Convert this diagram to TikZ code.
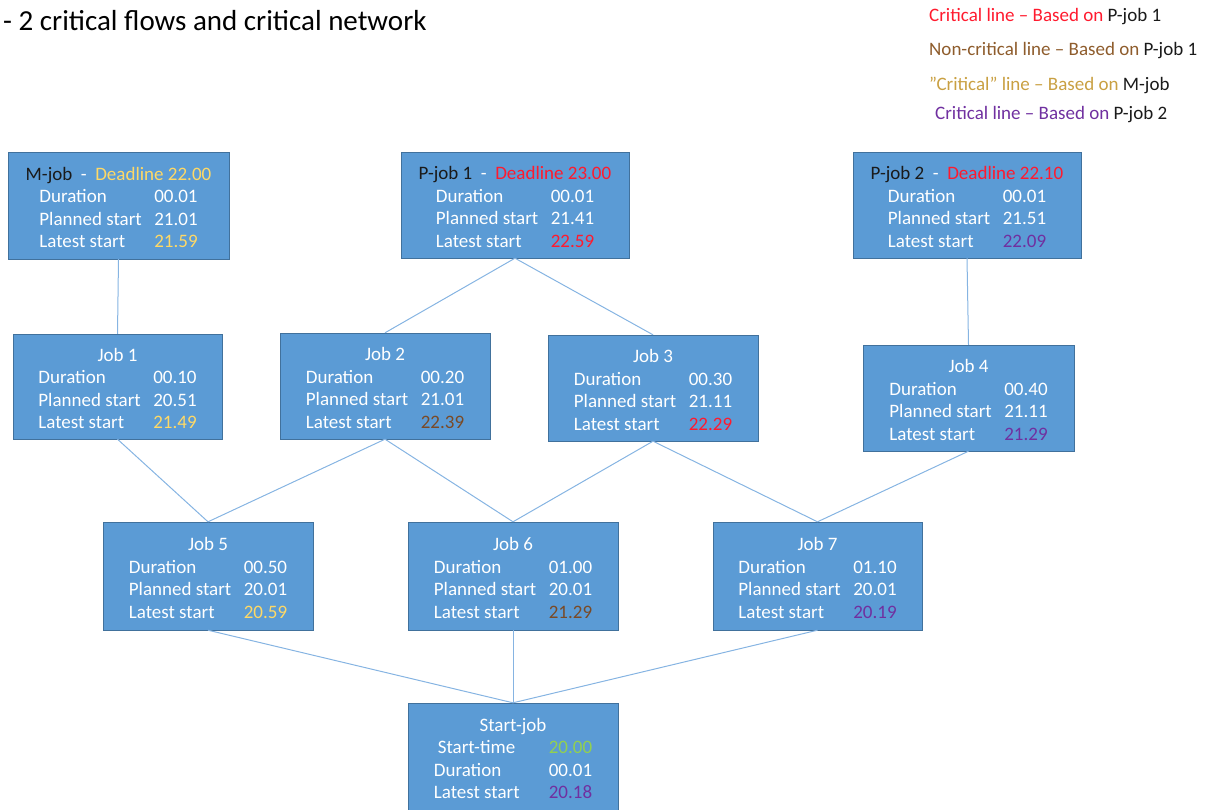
\documentclass[tikz,border=0pt]{standalone}
\usepackage{fontspec}
\setmainfont{Carlito}
\usepackage{array}
\usetikzlibrary{positioning}

\definecolor{boxblue}{HTML}{5B9BD5}
\definecolor{boxedge}{HTML}{41719C}
\definecolor{linkblue}{HTML}{86B4E2}
\definecolor{critred}{HTML}{FF1A2E}
\definecolor{noncrit}{HTML}{7A4A26}
\definecolor{legbrown}{HTML}{8E5C2C}
\definecolor{mgold}{HTML}{FFD966}
\definecolor{leggold}{HTML}{C9A042}
\definecolor{critpurple}{HTML}{7030A0}
\definecolor{startgreen}{HTML}{92D050}
\definecolor{namedark}{HTML}{1A1A1A}

% header row gets extra room on top, so the lines sit a bit lower in the box
\newcommand{\toprow}[1]{\multicolumn{2}{@{}c@{}}{\rule{0pt}{24pt}\makebox[0pt][c]{#1}}}

\newcommand{\jobinfo}[4]{\begin{tabular}{@{}p{115pt}@{}l@{}}
\toprow{#1}\\
Duration & #2\\
Planned start & #3\\
Latest start & #4
\end{tabular}}

\tikzset{
  jobbox/.style={draw=boxedge, fill=boxblue, text=white, inner sep=0pt,
    minimum width=210pt, minimum height=106pt, align=center,
    font=\fontsize{19}{22.5}\selectfont},
  link/.style={draw=linkblue, line width=1pt},
  legend/.style={anchor=base west, inner sep=0pt, font=\fontsize{19}{22.5}\selectfont}
}

\begin{document}
\begin{tikzpicture}[x=1pt,y=-1pt]
\useasboundingbox (0,0) rectangle (1209,810);

\node[anchor=base west, inner sep=0pt, font=\fontsize{29}{34}\selectfont] (title) at (3,31) {- 2 critical flows and critical network};

% legend
\node[legend, text=critred] (leg1) at (929,22) {Critical line -- Based on \textcolor{namedark}{P-job 1}};
\node[legend, text=legbrown] (leg2) at (929,56) {Non-critical line -- Based on \textcolor{namedark}{P-job 1}};
\node[legend, text=leggold] (leg3) at (929,91) {”Critical” line -- Based on \textcolor{namedark}{M-job}};
\node[legend, text=critpurple] (leg4) at (935,120) {Critical line -- Based on \textcolor{namedark}{P-job 2}};

% top row
\node[jobbox, minimum width=221pt, minimum height=107pt] (mjob) at (118.5,205.5)
  {\jobinfo{\textcolor{namedark}{M-job}\ \ -\ \ \textcolor{mgold}{Deadline 22.00}}{00.01}{21.01}{\textcolor{mgold}{21.59}}};
\node[jobbox, minimum width=228pt] (pjob1) at (515,205)
  {\jobinfo{\textcolor{namedark}{P-job 1}\ \ -\ \ \textcolor{critred}{Deadline 23.00}}{00.01}{21.41}{\textcolor{critred}{22.59}}};
\node[jobbox, minimum width=228pt] (pjob2) at (967,205)
  {\jobinfo{\textcolor{namedark}{P-job 2}\ \ -\ \ \textcolor{critred}{Deadline 22.10}}{00.01}{21.51}{\textcolor{critpurple}{22.09}}};

% middle row
\node[jobbox, minimum width=209pt, minimum height=105pt] (job1) at (117.5,386.5)
  {\jobinfo{Job 1}{00.10}{20.51}{\textcolor{mgold}{21.49}}};
\node[jobbox] (job2) at (385,386)
  {\jobinfo{Job 2}{00.20}{21.01}{\textcolor{noncrit}{22.39}}};
\node[jobbox] (job3) at (653,388)
  {\jobinfo{Job 3}{00.30}{21.11}{\textcolor{critred}{22.29}}};
\node[jobbox, minimum width=211pt] (job4) at (968.5,398)
  {\jobinfo{Job 4}{00.40}{21.11}{\textcolor{critpurple}{21.29}}};

% lower row
\node[jobbox, minimum height=108pt] (job5) at (208,576)
  {\jobinfo{Job 5}{00.50}{20.01}{\textcolor{mgold}{20.59}}};
\node[jobbox, minimum height=108pt] (job6) at (513,576)
  {\jobinfo{Job 6}{01.00}{20.01}{\textcolor{noncrit}{21.29}}};
\node[jobbox, minimum width=209pt, minimum height=108pt] (job7) at (817.5,576)
  {\jobinfo{Job 7}{01.10}{20.01}{\textcolor{critpurple}{20.19}}};

% start
\node[jobbox, minimum height=107pt] (start) at (513,756.5)
  {\begin{tabular}{@{}p{115pt}@{}l@{}}
   \toprow{Start-job}\\
   \hspace*{4pt}Start-time & \textcolor{startgreen}{20.00}\\
   Duration & 00.01\\
   Latest start & \textcolor{critpurple}{20.18}
   \end{tabular}};

% connectors
\draw[link] (mjob.south) -- (job1.north);
\draw[link] (pjob1.south) -- (job2.north);
\draw[link] (pjob1.south) -- (job3.north);
\draw[link] (pjob2.south) -- (job4.north);
\draw[link] (job1.south) -- (job5.north);
\draw[link] (job2.south) -- (job5.north);
\draw[link] (job2.south) -- (job6.north);
\draw[link] (job3.south) -- (job6.north);
\draw[link] (job3.south) -- (job7.north);
\draw[link] (job4.south) -- (job7.north);
\draw[link] (job5.south) -- (start.north);
\draw[link] (job6.south) -- (start.north);
\draw[link] (job7.south) -- (start.north);

\end{tikzpicture}
\end{document}
